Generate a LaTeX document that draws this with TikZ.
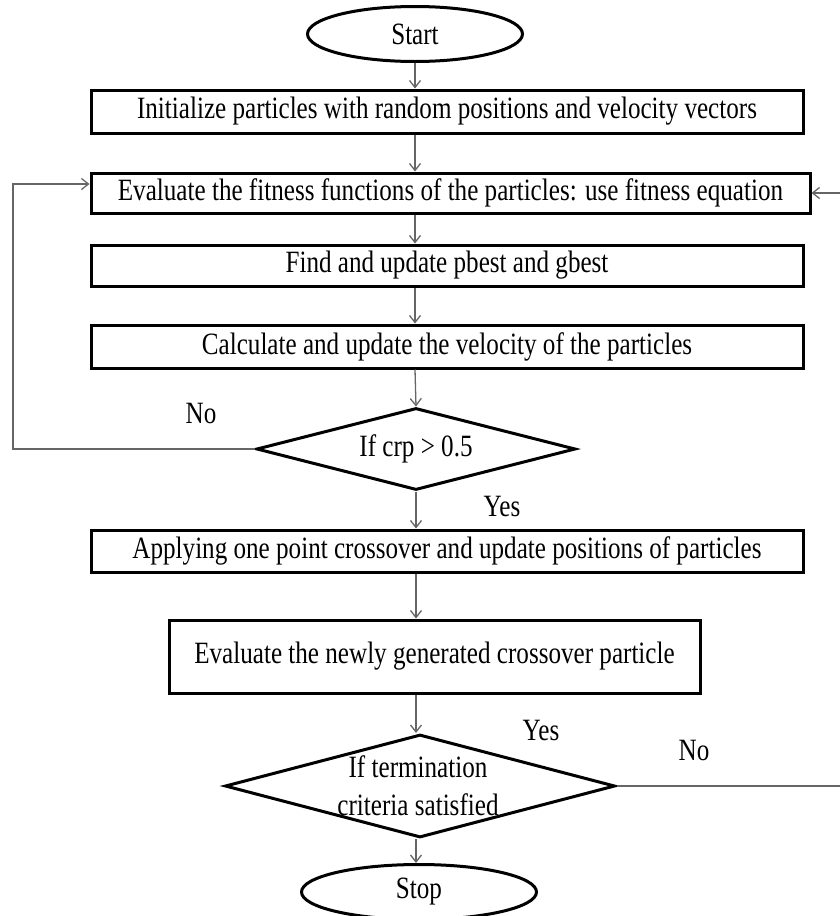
\documentclass[tikz,border=0pt]{standalone}
\usepackage{fontspec}
\setmainfont{Liberation Serif}[FakeStretch=0.81]
\usetikzlibrary{shapes.geometric,arrows.meta}
\tikzset{
  txt/.style={font=\fontsize{31}{38}\selectfont},
  procbox/.style={draw=black, line width=3pt, rectangle, inner sep=0pt, txt},
  term/.style={draw=black, line width=3pt, ellipse, inner sep=0pt, txt},
  decis/.style={draw=black, line width=3pt, diamond, inner sep=0pt, aspect=3.9, txt},
  conn/.style={draw=black!60, line width=1.3pt},
  arr/.style={conn, -{Straight Barb[length=7pt,width=11pt]}},
  lbl/.style={txt, inner sep=0pt}
}
\begin{document}
\begin{tikzpicture}[x=1pt,y=-1pt]
\useasboundingbox (0,0) rectangle (840,916);
\node[term, minimum width=215pt, minimum height=55pt] (start) at (415,34) {Start};
\node[procbox, minimum width=712pt, minimum height=43pt] (b1) at (447,111.5) {Initialize particles with random positions and velocity vectors};
\node[procbox, minimum width=719pt, minimum height=40pt] (b2) at (450.5,193) {Evaluate the fitness functions of the particles: use fitness equation};
\node[procbox, minimum width=712pt, minimum height=41pt] (b3) at (447,265.5) {Find and update pbest and gbest};
\node[procbox, minimum width=712pt, minimum height=43pt] (b4) at (447,346.5) {Calculate and update the velocity of the particles};
\node[decis, minimum width=319pt, minimum height=82pt] (d1) at (416,449) {If crp > 0.5};
\node[procbox, minimum width=712pt, minimum height=42pt] (b5) at (447,551) {Applying one point crossover and update positions of particles};
\node[procbox, minimum width=531pt, minimum height=73pt] (b6) at (434.5,656.5) {Evaluate the newly generated crossover particle};
\node[decis, minimum width=390pt, minimum height=103pt] (d2) at (420,786) {};
\node[lbl, align=center] (d2t) at (418,786) {If termination\\criteria satisfied};
\node[term, minimum width=235pt, minimum height=55pt] (stop) at (419,892) {Stop};
\node[lbl] (no1) at (201,413) {No};
\node[lbl] (yes1) at (502,506) {Yes};
\node[lbl] (yes2) at (541,730) {Yes};
\node[lbl] (no2) at (694,750) {No};
\coordinate (lft) at (13,184);
\coordinate (rgt) at (846,193);
% connectors
\draw[arr] (start.south) -- (start.south |- b1.north);
\draw[arr] (start.south |- b1.south) -- (start.south |- b2.north);
\draw[arr] (start.south |- b2.south) -- (start.south |- b3.north);
\draw[arr] (start.south |- b3.south) -- (start.south |- b4.north);
\draw[arr] (start.south |- b4.south) -- (d1.north);
\draw[arr] (d1.south) -- (d1.south |- b5.north);
\draw[arr] (d1.south |- b5.south) -- (d1.south |- b6.north);
\draw[arr] (d1.south |- b6.south) -- (d1.south |- d2.north);
\draw[arr] (d1.south |- d2.south) -- (stop.north -| d1.south);
\draw[arr] (d1.west) -| (lft) -- (lft -| b2.west);
\draw[arr] (d2.east) -| (rgt) -- (b2.east);
\end{tikzpicture}
\end{document}
